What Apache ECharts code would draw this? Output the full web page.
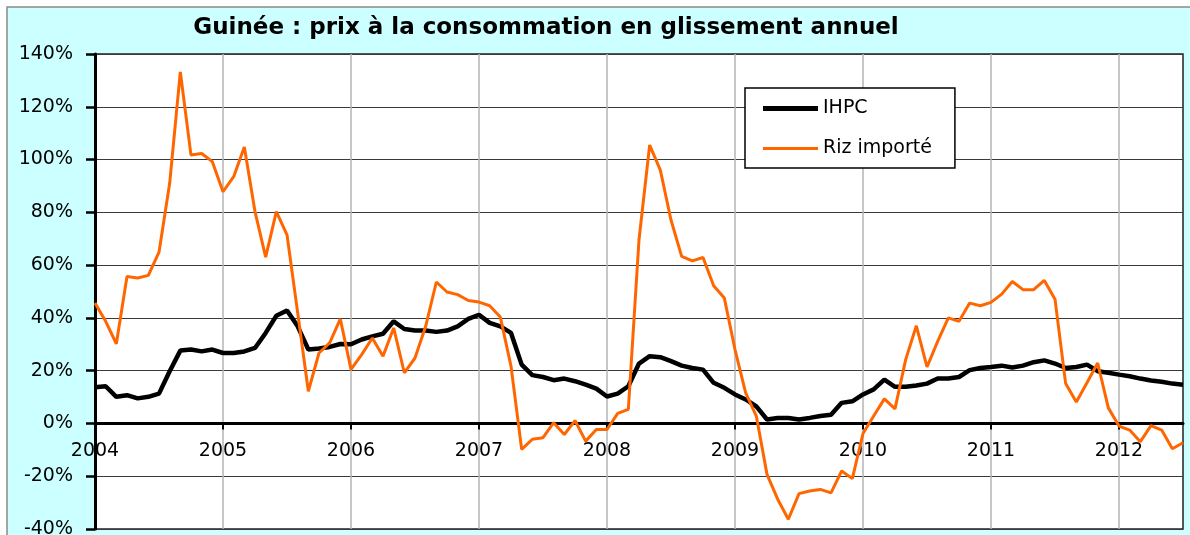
<!DOCTYPE html>
<html>
<head>
<meta charset="utf-8">
<script src="https://cdn.jsdelivr.net/npm/echarts@6/dist/echarts.min.js"></script>
<style>
  html, body { margin: 0; padding: 0; background: #fff; }
  #chart { width: 1190px; height: 535px; }
</style>
</head>
<body>
<div id="chart"></div>
<script>
// années affichées sur l'axe, un point par mois (janv. 2004 -> juil. 2012)
const years = ["2004", "2005", "2006", "2007", "2008", "2009", "2010", "2011", "2012"];
const monthCount = 103;

// IHPC, glissement annuel en %
const ihpc = [
  13.7, 14.1, 10.1, 10.7, 9.5, 10.1, 11.3, 19.8, 27.6, 28.0, 27.3, 28.0,
  26.7, 26.7, 27.3, 28.6, 34.3, 40.8, 42.8, 36.8, 28.0, 28.4, 29.0, 30.1,
  30.0, 31.8, 33.0, 34.0, 38.7, 35.8, 35.2, 35.2, 34.7, 35.2, 36.8, 39.6,
  41.2, 38.1, 36.8, 34.3, 22.3, 18.3, 17.6, 16.4, 17.0, 16.0, 14.7, 13.2,
  10.2, 11.3, 14.1, 22.7, 25.5, 25.1, 23.6, 21.9, 21.0, 20.4, 15.4, 13.5,
  11.0, 9.1, 6.5, 1.5, 2.1, 2.1, 1.5, 2.1, 2.8, 3.3, 7.8, 8.4,
  11.0, 12.9, 16.6, 13.9, 13.9, 14.4, 15.1, 17.0, 17.0, 17.6, 20.2, 21.0,
  21.4, 21.9, 21.2, 21.9, 23.2, 23.9, 22.7, 21.0, 21.4, 22.3, 19.8, 19.2,
  18.5, 17.9, 17.0, 16.3, 15.8, 15.1, 14.7
];

// Riz importé, glissement annuel en %
const riz = [
  45.6, 38.7, 30.2, 55.7, 55.1, 56.1, 64.9, 91.0, 133.2, 101.7, 102.3, 99.2,
  87.8, 93.5, 104.8, 80.3, 63.0, 80.3, 71.5, 42.0, 12.2, 26.7, 30.5, 39.6,
  20.5, 26.1, 32.4, 25.5, 36.2, 19.2, 24.8, 36.8, 53.6, 49.8, 48.8, 46.6,
  46.0, 44.6, 40.3, 21.7, -9.8, -6.0, -5.4, 0.3, -4.2, 1.1, -6.7, -2.3,
  -2.3, 3.8, 5.3, 69.6, 105.5, 96.0, 77.1, 63.3, 61.6, 62.9, 52.2, 47.5,
  28.0, 11.6, 2.8, -19.3, -28.7, -36.3, -26.6, -25.6, -25.0, -26.3, -18.0, -20.9,
  -3.8, 2.8, 9.3, 5.5, 24.2, 37.0, 21.4, 31.1, 40.0, 38.7, 45.6, 44.6,
  45.9, 49.0, 53.8, 50.7, 50.7, 54.2, 47.1, 15.1, 8.1, 15.4, 22.9, 5.9,
  -1.0, -2.5, -6.9, -0.8, -2.5, -9.6, -7.3
];

const yMin = -40;
const yMax = 140;

const months = [];
years.forEach(y => {
  for (let m = 1; m <= 12; m++) months.push(y + "-" + (m < 10 ? "0" + m : m));
});
const categories = months.slice(0, monthCount);

const font = "DejaVu Sans";
const isJan = (idx) => idx % 12 === 0;

// cadre du graphique
const gridTop = 54;
const gridBottom = 6;
const plotH = 535 - gridTop - gridBottom;
// l'axe des x est posé sur la ligne 0 %
const zeroOffset = -plotH * (0 - yMin) / (yMax - yMin);

const chart = echarts.init(document.getElementById("chart"));
chart.setOption({
  backgroundColor: "#fff",
  animation: false,
  graphic: [
    {
      type: "rect",
      z: -10,
      shape: { x: 7, y: 7, width: 1220, height: 560 },
      style: { fill: "#CCFFFF", stroke: "#8a8a8a", lineWidth: 1.5 }
    }
  ],
  title: {
    text: "Guinée : prix à la consommation en glissement annuel",
    left: 541,
    top: 12,
    textAlign: "center",
    textStyle: {
      fontFamily: font,
      fontWeight: "bold",
      fontSize: 23,
      color: "#000"
    }
  },
  legend: {
    orient: "vertical",
    left: 745,
    top: 88,
    padding: [11, 23, 10, 18],
    itemGap: 21,
    itemWidth: 55,
    itemHeight: 14,
    backgroundColor: "#fff",
    borderColor: "#000",
    borderWidth: 1.5,
    textStyle: { fontFamily: font, fontSize: 19, color: "#000" },
    data: [
      { name: "IHPC", icon: "path://M0,0 L55,0 L55,5 L0,5 Z" },
      { name: "Riz importé", icon: "path://M0,0 L55,0 L55,3 L0,3 Z" }
    ]
  },
  grid: {
    left: 95,
    top: gridTop,
    right: 7,
    bottom: gridBottom,
    outerBoundsMode: "none",
    show: true,
    backgroundColor: "#fff",
    borderColor: "#222",
    borderWidth: 1.5
  },
  xAxis: {
    type: "category",
    data: categories,
    boundaryGap: false,
    position: "bottom",
    offset: zeroOffset,
    axisLine: { onZero: false, lineStyle: { color: "#000", width: 3 } },
    axisTick: { interval: isJan, length: 6, lineStyle: { color: "#000", width: 2 } },
    axisLabel: {
      interval: isJan,
      margin: 18,
      fontFamily: font,
      fontSize: 19,
      color: "#000",
      formatter: (v) => v.slice(0, 4)
    },
    splitLine: { show: true, interval: isJan, lineStyle: { color: "#b4b4b4", width: 1.5 } }
  },
  yAxis: {
    type: "value",
    min: yMin,
    max: yMax,
    interval: 20,
    axisLine: { show: true, lineStyle: { color: "#000", width: 3 } },
    axisTick: { show: true, length: 9, lineStyle: { color: "#000", width: 2.5 } },
    axisLabel: {
      margin: 22,
      fontFamily: font,
      fontSize: 19,
      color: "#000",
      formatter: "{value}%"
    },
    splitLine: { show: true, lineStyle: { color: "#3a3a3a", width: 1 } }
  },
  series: [
    {
      name: "IHPC",
      type: "line",
      data: ihpc,
      symbol: "none",
      lineStyle: { color: "#000", width: 4.5 },
      itemStyle: { color: "#000" }
    },
    {
      name: "Riz importé",
      type: "line",
      data: riz,
      symbol: "none",
      lineStyle: { color: "#FF6600", width: 3 },
      itemStyle: { color: "#FF6600" }
    }
  ]
});
</script>
</body>
</html>
